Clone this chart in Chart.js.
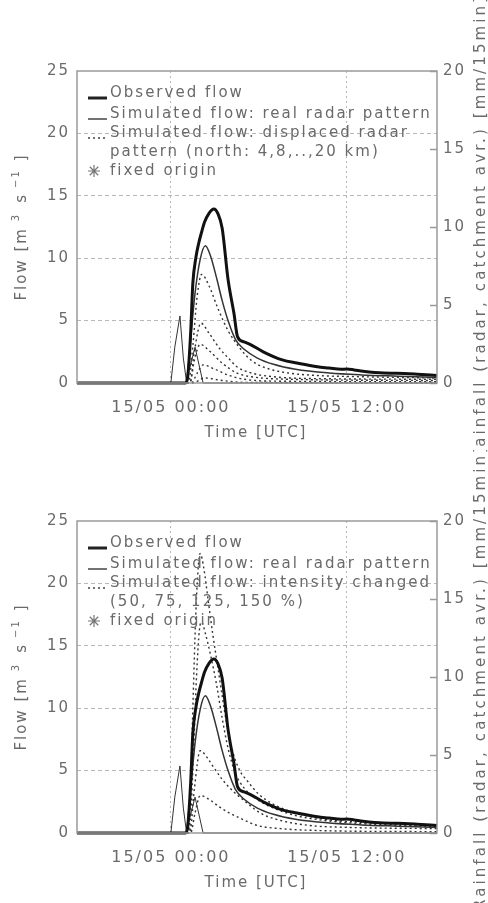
<!DOCTYPE html>
<html><head><meta charset="utf-8">
<script src="https://cdn.jsdelivr.net/npm/chart.js"></script>
<style>
html,body{margin:0;padding:0;background:#fff;width:488px;height:903px;overflow:hidden}
canvas{display:block}
</style></head><body>
<canvas id="c1" width="488" height="450"></canvas>
<canvas id="c2" width="488" height="453"></canvas>
<script>
// ---------- data (hours relative to 15/05 00:00 UTC) ----------
const xTickValues = [0, 12];
const xTickLabels = ['15/05 00:00', '15/05 12:00'];
const flowRange = [0, 25];
const rainRange = [0, 20];

const obsT = [-6.4, 1.0, 1.15, 1.35, 1.5, 1.7, 1.9, 2.1, 2.3, 2.6, 2.93, 3.2, 3.5, 3.9, 4.3, 4.55, 5.0, 5.4, 6.3, 7.6, 8.6, 10.0, 10.8, 11.6, 12.0, 12.5, 13.1, 14.5, 15.4, 16.8, 18.15];
const obsQ = [0, 0, 0.5, 4.0, 8.0, 10.0, 11.2, 12.1, 12.9, 13.6, 13.95, 13.6, 12.4, 8.3, 5.6, 3.7, 3.3, 3.1, 2.5, 1.85, 1.6, 1.3, 1.2, 1.1, 1.12, 1.05, 0.95, 0.8, 0.78, 0.7, 0.6];

const realT = [-6.4, 0.95, 1.1, 1.35, 1.65, 2.0, 2.35, 2.7, 3.1, 3.5, 3.9, 4.4, 5.0, 5.9, 7.0, 8.5, 10.8, 13.0, 15.5, 18.15];
const realQ = [0, 0, 0.4, 3.5, 7.2, 9.9, 11.0, 10.2, 8.5, 6.6, 5.0, 3.5, 2.7, 2.0, 1.5, 1.1, 0.8, 0.65, 0.55, 0.45];

const rainT = [-6.4, 0.0, 0.27, 0.62, 0.85, 1.05, 1.3, 1.65, 2.2, 18.15];
const rainR = [0, 0, 2.3, 4.3, 1.6, 0.2, 1.0, 2.3, 0, 0];

// displaced radar pattern (north 4, 8, 12, 16, 20 km)
const d4T = [-6.4, 1.2, 1.5, 1.8, 2.1, 2.6, 3.2, 3.9, 4.7, 5.5, 6.5, 8.0, 10.0, 13.0, 18.15];
const d4Q = [0, 0, 3.0, 7.0, 8.7, 7.8, 6.0, 4.2, 2.8, 1.8, 1.2, 0.8, 0.6, 0.5, 0.4];
const d8T = [-6.4, 1.3, 1.6, 2.05, 2.6, 3.3, 4.0, 4.5, 5.5, 7.0, 10.0, 18.15];
const d8Q = [0, 0, 2.5, 4.8, 4.0, 2.8, 1.9, 1.3, 0.8, 0.5, 0.35, 0.3];
const d12T = [-6.4, 1.3, 1.6, 2.0, 2.6, 3.5, 4.5, 5.5, 8.0, 18.15];
const d12Q = [0, 0, 1.8, 3.1, 2.6, 1.6, 0.8, 0.5, 0.3, 0.2];
const d16T = [-6.4, 1.4, 1.8, 2.2, 3.0, 4.0, 5.0, 7.0, 18.15];
const d16Q = [0, 0, 0.8, 1.45, 1.1, 0.6, 0.3, 0.15, 0.1];
const d20T = [-6.4, 1.5, 2.3, 3.5, 5.0, 18.15];
const d20Q = [0, 0, 0.4, 0.2, 0.05, 0];

// intensity changed (150, 125, 75, 50 %)
const i150T = [-6.4, 1.2, 1.3, 1.5, 1.7, 1.85, 2.0, 2.25, 2.55, 2.85, 3.2, 3.5, 3.8, 4.2, 4.7, 5.2, 6.0, 7.0, 8.5, 10.5, 13.0, 15.5, 18.15];
const i150Q = [0, 0, 2.0, 10.0, 17.5, 21.0, 22.4, 21.2, 18.6, 16.0, 13.3, 11.0, 8.8, 6.6, 5.0, 4.2, 3.1, 2.3, 1.6, 1.1, 0.85, 0.7, 0.6];
const i125T = [-6.4, 1.25, 1.5, 1.75, 1.95, 2.1, 2.35, 2.7, 3.1, 3.5, 3.9, 4.4, 5.0, 6.0, 7.0, 8.5, 10.5, 13.0, 18.15];
const i125Q = [0, 0, 5.0, 12.5, 16.3, 16.9, 16.0, 14.3, 12.0, 9.2, 6.8, 4.8, 3.6, 2.6, 2.0, 1.4, 1.0, 0.75, 0.5];
const i75T = [-6.4, 1.3, 1.6, 2.0, 2.5, 2.9, 3.5, 4.2, 5.2, 6.1, 7.5, 9.5, 12.0, 18.15];
const i75Q = [0, 0, 3.5, 6.6, 6.0, 5.3, 4.3, 3.4, 2.4, 1.6, 1.0, 0.6, 0.45, 0.35];
const i50T = [-6.4, 1.35, 1.65, 2.0, 2.6, 3.3, 4.0, 4.7, 5.9, 7.5, 10.0, 18.15];
const i50Q = [0, 0, 1.6, 3.0, 2.7, 2.1, 1.6, 1.2, 0.6, 0.35, 0.2, 0.1];

const legendTop = ['Observed flow', 'Simulated flow: real radar pattern', 'Simulated flow: displaced radar', 'pattern (north: 4,8,..,20 km)', 'fixed origin'];
const legendBottom = ['Observed flow', 'Simulated flow: real radar pattern', 'Simulated flow: intensity changed', '(50, 75, 125, 150 %)', 'fixed origin'];

// ---------- helpers ----------
const FONT = '"DejaVu Sans", "Liberation Sans", sans-serif';
const TXT = '#6a6a6a';
const zip = (t, v) => t.map((x, i) => ({x: x, y: v[i]}));

function flowSet(t, q, kind) {
  const s = {data: zip(t, q), yAxisID: 'y', pointRadius: 0, borderColor: '#1a1a1a',
    cubicInterpolationMode: 'monotone', fill: false, clip: 4};
  if (kind === 'obs') { s.borderWidth = 3; s.borderColor = '#111'; }
  else if (kind === 'real') { s.borderWidth = 1.5; s.borderColor = '#333'; }
  else { s.borderWidth = 1.4; s.borderDash = [2, 3]; s.borderColor = '#333'; }
  return s;
}

const decor = {
  id: 'decor',
  beforeDraw(chart) { chart.ctx.letterSpacing = '2px'; },
  afterDatasetsDraw(chart, args, opts) {
    const ctx = chart.ctx, a = chart.chartArea;
    ctx.save();
    ctx.setLineDash([]);
    ctx.strokeStyle = '#9a9a9a'; ctx.lineWidth = 1.5;
    ctx.strokeRect(a.left, a.top, a.right - a.left, a.bottom - a.top);
    // legend
    const L = opts.legend;
    const dys = [22, 43, 62, 81, 100];
    ctx.font = '15px ' + FONT; ctx.fillStyle = TXT;
    ctx.textBaseline = 'middle'; ctx.textAlign = 'left';
    L.forEach((txt, i) => ctx.fillText(txt, a.left + 33, a.top + dys[i]));
    const x0 = a.left + 11, x1 = a.left + 30;
    ctx.strokeStyle = '#222';
    ctx.lineWidth = 3; ctx.beginPath(); ctx.moveTo(x0, a.top + 27); ctx.lineTo(x1, a.top + 27); ctx.stroke();
    ctx.lineWidth = 1.5; ctx.strokeStyle = '#444'; ctx.beginPath(); ctx.moveTo(x0, a.top + 48); ctx.lineTo(x1, a.top + 48); ctx.stroke();
    ctx.setLineDash([2, 3]); ctx.lineWidth = 1.4; ctx.beginPath(); ctx.moveTo(x0, a.top + 67); ctx.lineTo(x1, a.top + 67); ctx.stroke();
    ctx.setLineDash([]);
    // asterisk symbol
    const cx = a.left + 17, cy = a.top + 100, r = 6;
    ctx.strokeStyle = '#777'; ctx.lineWidth = 1.2; ctx.beginPath();
    for (let k = 0; k < 4; k++) {
      const an = k * Math.PI / 4;
      ctx.moveTo(cx - r * Math.cos(an), cy - r * Math.sin(an));
      ctx.lineTo(cx + r * Math.cos(an), cy + r * Math.sin(an));
    }
    ctx.stroke();
    ctx.restore();
  },
  afterDraw(chart) {
    const ctx = chart.ctx, a = chart.chartArea;
    const mid = (a.top + a.bottom) / 2;
    ctx.save();
    ctx.fillStyle = TXT; ctx.textBaseline = 'middle';
    // x title
    ctx.font = '15px ' + FONT; ctx.textAlign = 'center';
    ctx.fillText('Time [UTC]', 256, a.bottom + 50);
    // right title (bottom-to-top)
    ctx.save(); ctx.translate(481, mid); ctx.rotate(-Math.PI / 2);
    ctx.letterSpacing = '3.1px';
    ctx.fillText('Rainfall (radar, catchment avr.) [mm/15min]', 0, 0);
    ctx.restore();
    // left title with superscripts
    const segs = [
      {t: 'Flow [m', s: 15, dy: 0, pre: 0},
      {t: '3', s: 10, dy: -6, pre: 6},
      {t: 's', s: 15, dy: 0, pre: 10},
      {t: '\u22121', s: 10, dy: -6, pre: 5},
      {t: ']', s: 15, dy: 0, pre: 8}
    ];
    let total = 0;
    segs.forEach(g => { ctx.font = g.s + 'px ' + FONT; g.w = ctx.measureText(g.t).width; total += g.w + g.pre; });
    ctx.save(); ctx.translate(22, mid); ctx.rotate(-Math.PI / 2);
    ctx.textAlign = 'left';
    let x = -total / 2;
    segs.forEach(g => { x += g.pre; ctx.font = g.s + 'px ' + FONT; ctx.fillText(g.t, x, g.dy); x += g.w; });
    ctx.restore();
    ctx.restore();
  }
};

function makeChart(id, canvasH, dashed, legend) {
  const datasets = [
    flowSet(obsT, obsQ, 'obs'),
    flowSet(realT, realQ, 'real'),
    ...dashed.map(d => flowSet(d[0], d[1], 'dash')),
    {data: zip(rainT, rainR), yAxisID: 'y2', pointRadius: 0, borderWidth: 1, borderColor: '#333', tension: 0, fill: false, clip: 4}
  ];
  return new Chart(document.getElementById(id), {
    type: 'line',
    data: {datasets: datasets},
    plugins: [decor],
    options: {
      responsive: false, animation: false, devicePixelRatio: 1,
      layout: {padding: {top: 71, left: 0, right: 0, bottom: 0}},
      plugins: {legend: {display: false}, tooltip: {enabled: false}, decor: {legend: legend}},
      scales: {
        x: {
          type: 'linear', min: -6.4, max: 18.15,
          afterBuildTicks: s => { s.ticks = xTickValues.map(v => ({value: v})); },
          afterFit: s => { s.height = canvasH - 383; },
          ticks: {callback: (v, i) => xTickLabels[i], maxRotation: 0, autoSkip: false, padding: 15,
                  color: TXT, font: {family: FONT, size: 16}},
          grid: {color: '#b8b8b8', lineWidth: 1, drawTicks: false},
          border: {display: false, dash: [2, 3]}
        },
        y: {
          position: 'left', min: flowRange[0], max: flowRange[1],
          afterFit: s => { s.width = 77; },
          ticks: {stepSize: 5, padding: 7, color: TXT, font: {family: FONT, size: 15}},
          grid: {color: c => (c.tick && (c.tick.value === 0 || c.tick.value === 25)) ? 'rgba(0,0,0,0)' : '#b8b8b8',
                 lineWidth: 1, drawTicks: false},
          border: {display: false, dash: [4, 3]}
        },
        y2: {
          position: 'right', min: rainRange[0], max: rainRange[1],
          afterFit: s => { s.width = 51; },
          ticks: {stepSize: 5, padding: 13, color: TXT, font: {family: FONT, size: 15}},
          grid: {drawOnChartArea: false, drawTicks: true, tickLength: -7, tickColor: '#9a9a9a', tickWidth: 1.5},
          border: {display: false}
        }
      }
    }
  });
}

makeChart('c1', 450, [[d4T, d4Q], [d8T, d8Q], [d12T, d12Q], [d16T, d16Q], [d20T, d20Q]], legendTop);
makeChart('c2', 453, [[i150T, i150Q], [i125T, i125Q], [i75T, i75Q], [i50T, i50Q]], legendBottom);
</script>
</body></html>
